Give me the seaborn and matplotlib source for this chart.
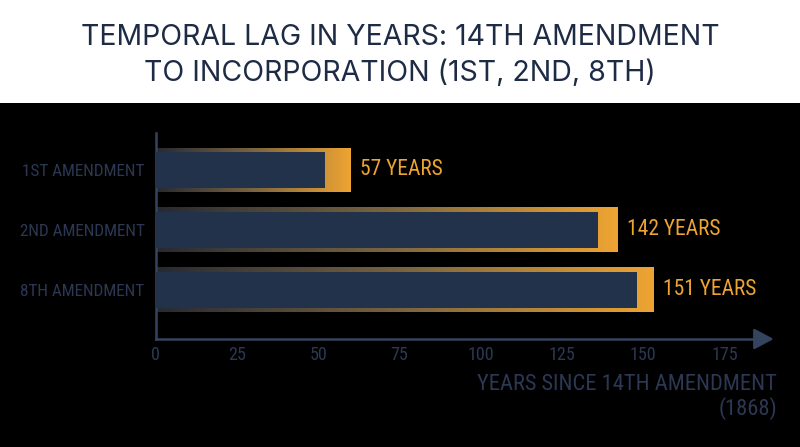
import numpy as np
import pandas as pd
import seaborn as sns
import matplotlib.pyplot as plt
from matplotlib.colors import LinearSegmentedColormap
from matplotlib.patches import Rectangle

# values
amendments = ['1ST AMENDMENT', '2ND AMENDMENT', '8TH AMENDMENT']
lag_years = [57, 142, 151]
outer_extent = [60, 142, 153]   # orange frame end
inner_extent = [52, 136, 148]   # navy bar end
x_ticks = [0, 25, 50, 75, 100, 125, 150, 175]

df = pd.DataFrame({'amendment': amendments, 'lag': lag_years,
                   'outer': outer_extent, 'inner': inner_extent})

navy = '#23324b'
orange = '#eea432'
slate = '#2c3853'
axis_col = '#34445f'

sns.set_theme(style='white')
plt.rcParams['font.family'] = ['Roboto Condensed', 'Liberation Sans Narrow', 'Roboto', 'DejaVu Sans']

fig = plt.figure(figsize=(8, 4.47), dpi=100, facecolor='black')
fig.patches.append(Rectangle((0, 0.7696), 1, 0.2304, transform=fig.transFigure,
                             facecolor='white', edgecolor='none', zorder=0))

title_font = ['Inter', 'Open Sans', 'DejaVu Sans']
fig.text(0.5, 0.915, 'TEMPORAL LAG IN YEARS: 14TH AMENDMENT', ha='center', va='center',
         color='#1e2b45', fontsize=20.5, family=title_font)
fig.text(0.5, 0.837, 'TO INCORPORATION (1ST, 2ND, 8TH)', ha='center', va='center',
         color='#1e2b45', fontsize=20.5, family=title_font)

ax = fig.add_axes([155.7 / 800, 0.2416, 620.75 / 800, 0.4609])
ax.set_facecolor('black')

# outer frame bars, later filled with a gradient
sns.barplot(data=df, y='amendment', x='outer', orient='h', color=orange,
            width=0.75, ax=ax, zorder=2, linewidth=0)
outer_patches = list(ax.patches)

cmap = LinearSegmentedColormap.from_list('fade', ['#262a33', '#7a6440', orange])
grad = np.linspace(0, 1, 256).reshape(1, -1)
for p in outer_patches:
    x0, y0, w, h = p.get_x(), p.get_y(), p.get_width(), p.get_height()
    im = ax.imshow(grad, cmap=cmap, aspect='auto', extent=[x0, x0 + w, y0 + h, y0],
                   zorder=2, interpolation='bicubic')
    im.set_clip_path(p)
    p.set_facecolor('none')

sns.barplot(data=df, y='amendment', x='inner', orient='h', color=navy,
            width=0.6, ax=ax, zorder=3, saturation=1, linewidth=0)

for i, (o, lag) in enumerate(zip(outer_extent, lag_years)):
    ax.text(o + 3, i, f'{lag} YEARS', va='center', ha='left', color=orange, fontsize=15.5)

ax.set_xlim(0, 191)
ax.set_ylim(2.817, -0.617)
ax.set_xticks(x_ticks)
ax.set_xlabel('')
ax.set_ylabel('')

for s in ['top', 'right']:
    ax.spines[s].set_visible(False)
for s in ['left', 'bottom']:
    ax.spines[s].set_color(axis_col)
    ax.spines[s].set_linewidth(1.8)
ax.spines['bottom'].set_bounds(0, 186)

ax.tick_params(axis='x', direction='in', length=9, width=1.5, color=axis_col,
               labelcolor=slate, labelsize=13, pad=5)
ax.tick_params(axis='y', length=0, labelcolor=slate, labelsize=12.3, pad=8)

ax.annotate('', xy=(1.0, 0), xytext=(0.96, 0), xycoords='axes fraction',
            arrowprops=dict(arrowstyle='-|>,head_length=0.6,head_width=0.32',
                            mutation_scale=20, color=axis_col, lw=1.8),
            annotation_clip=False)

fig.text(777 / 800, 1 - 385 / 447, 'YEARS SINCE 14TH AMENDMENT', ha='right', va='center',
         color=slate, fontsize=16.2)
fig.text(777 / 800, 1 - 409 / 447, '(1868)', ha='right', va='center',
         color=slate, fontsize=16.2)

fig.savefig('out.png', dpi=100, facecolor=fig.get_facecolor())
